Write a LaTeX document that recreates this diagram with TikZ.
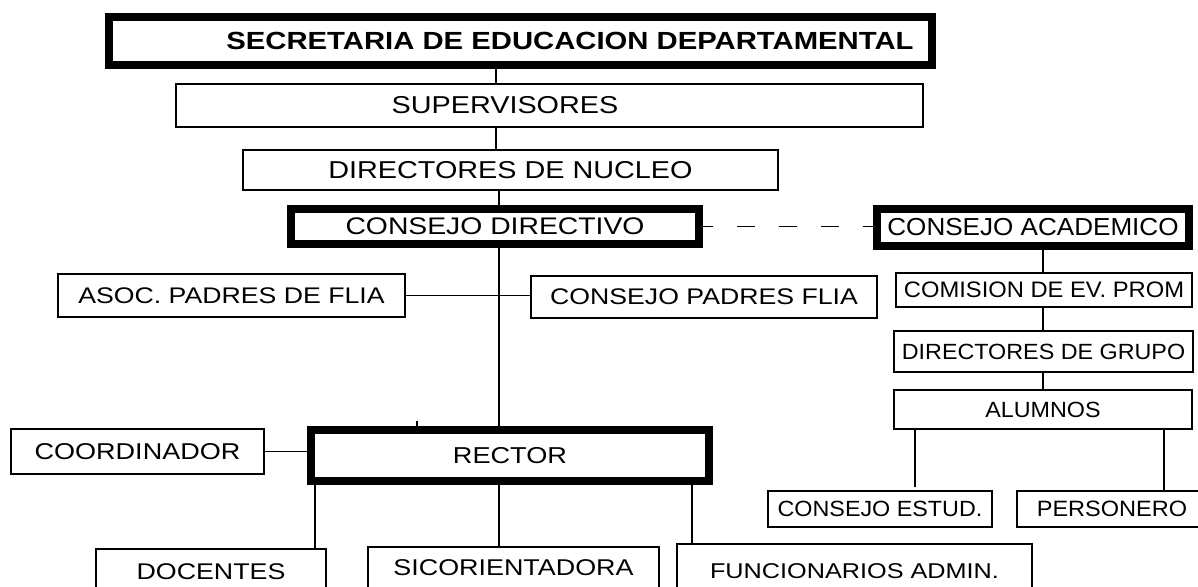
\documentclass[tikz,border=0pt]{standalone}
\usepackage{fontspec}
\setmainfont{Liberation Sans}
\newfontfamily\leftfont{Liberation Sans}[FakeStretch=1.18]
\newfontfamily\rightfont{Liberation Sans}[FakeStretch=1.06]

\begin{document}
\begin{tikzpicture}[x=0.5pt,y=-0.5pt,
    box/.style={draw, line width=0.75pt, inner sep=0pt},
    headbox/.style={draw, line width=4pt, inner sep=0pt},
    link/.style={line width=0.8pt},
    lsize/.style={font=\leftfont\fontsize{#1}{#1}\selectfont},
    rsize/.style={font=\rightfont\fontsize{#1}{#1}\selectfont}]

          \useasboundingbox (0,0) rectangle (1198,587);
          \clip (0,0) rectangle (1198,587);

          % columna central
          \node[headbox, minimum width=411.5pt, minimum height=24pt,
            label={[font=\leftfont\bfseries\fontsize{12.4pt}{12.4pt}\selectfont, xshift=24.75pt]center:SECRETARIA DE EDUCACION DEPARTAMENTAL}] (sec) at (520.5,41) {};
          \node[box, minimum width=373.5pt, minimum height=21.5pt,
            label={[lsize=12.2pt, xshift=-22.25pt]center:SUPERVISORES}] (sup) at (549.5,105.5) {};
          \node[box, lsize=12.2pt, minimum width=267.5pt, minimum height=20pt] (dirnuc) at (510.5,170) {DIRECTORES DE NUCLEO};
          \node[headbox, lsize=12pt, minimum width=204pt, minimum height=17.5pt] (cdir) at (495,226.5) {CONSEJO DIRECTIVO};
          \node[box, lsize=11.3pt, minimum width=173.5pt, minimum height=21.5pt] (asoc) at (231.5,295.5) {ASOC. PADRES DE FLIA};
          \node[box, lsize=11.3pt, minimum width=173pt, minimum height=21pt] (cpad) at (704,297) {CONSEJO PADRES FLIA};
          \node[headbox, lsize=11.5pt, minimum width=199pt, minimum height=25.5pt] (rector) at (510,455.5) {RECTOR};
          \node[box, lsize=11.45pt, minimum width=126.5pt, minimum height=22.5pt] (coord) at (137.5,451.5) {COORDINADOR};
          \node[box, lsize=11.35pt, minimum width=115pt, minimum height=23pt] (doc) at (211,572) {DOCENTES};
          \node[box, lsize=11.4pt, minimum width=145.5pt, minimum height=20.5pt] (sico) at (513.5,567.5) {SICORIENTADORA};
          \node[box, lsize=10.7pt, minimum width=177.5pt, minimum height=27pt] (func) at (854.5,571) {FUNCIONARIOS ADMIN.};

          % columna academica
          \node[headbox, rsize=12.3pt, minimum width=156pt, minimum height=18.5pt] (cacad) at (1033,227.5) {CONSEJO ACADEMICO};
          \node[box, rsize=11.2pt, minimum width=148pt, minimum height=17pt] (com) at (1044,290) {COMISION DE EV. PROM};
          \node[box, rsize=11pt, minimum width=149.5pt, minimum height=20.5pt] (dirgru) at (1043.5,351.5) {DIRECTORES DE GRUPO};
          \node[box, rsize=11pt, minimum width=149pt, minimum height=19.5pt] (alum) at (1043,409.5) {ALUMNOS};
          \node[box, rsize=11pt, minimum width=112pt, minimum height=18pt] (cest) at (880,509) {CONSEJO ESTUD.};
          \node[box, rsize=11.1pt, minimum width=95pt, minimum height=18pt] (pers) at (1112,509) {PERSONERO};

          % ejes de las lineas
          \coordinate (ejeA) at (496,0);
          \coordinate (ejeB) at (499,0);
          \coordinate (ejeC) at (1043,0);
          \coordinate (ejeD) at (315,0);
          \coordinate (ejeE) at (692,0);
          \coordinate (estx) at (915,487);
          \coordinate (perx) at (1164,0);
          \coordinate (tick) at (417,421);

          \draw[link] (sec.south -| ejeA) -- (sup.north -| ejeA);
          \draw[link] (sup.south -| ejeA) -- (dirnuc.north -| ejeA);
          \draw[link] (dirnuc.south -| ejeB) -- (cdir.north -| ejeB);
          \draw[link] (cdir.south -| ejeB) -- (rector.north -| ejeB);
          \draw[link] (asoc.east) -- (asoc.east -| cpad.west);
          \draw[link, dash pattern=on 9pt off 12pt, dash phase=4pt] (cdir.east) -- (cdir.east -| cacad.west);
          \draw[link] (coord.east) -- (coord.east -| rector.west);
          \draw[link] (tick) -- (tick |- rector.north);

          \draw[link] (rector.south -| ejeD) -- ([yshift=-1pt]doc.north -| ejeD);
          \draw[link] (rector.south -| ejeB) -- (sico.north -| ejeB);
          \draw[link] (rector.south -| ejeE) -- (func.north -| ejeE);

          \draw[link] (cacad.south -| ejeC) -- (com.north -| ejeC);
          \draw[link] (com.south -| ejeC) -- (dirgru.north -| ejeC);
          \draw[link] (dirgru.south -| ejeC) -- (alum.north -| ejeC);
          \draw[link] (alum.south -| estx) -- (estx);
          \draw[link] (alum.south -| perx) -- (pers.north -| perx);

          \end{tikzpicture}
\end{document}
